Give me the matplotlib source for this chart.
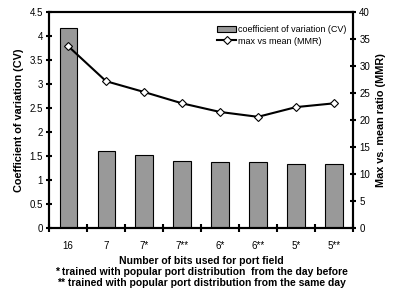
import matplotlib
matplotlib.use("Agg")
import matplotlib.pyplot as plt
import numpy as np

plt.rcParams['font.family'] = ['Liberation Sans', 'DejaVu Sans']

labels = ['16', '7', '7*', '7**', '6*', '6**', '5*', '5**']
cv = [4.17, 1.60, 1.52, 1.40, 1.38, 1.38, 1.33, 1.33]
mmr = [33.7, 27.2, 25.2, 23.1, 21.5, 20.6, 22.4, 23.1]

fig = plt.figure(figsize=(4.09, 2.95), dpi=100)
ax = fig.add_axes([0.12, 0.227, 0.743, 0.732])
x = np.arange(len(labels))

b = ax.bar(x, cv, width=0.45, color='#999999', edgecolor='black', linewidth=0.8,
           label='coefficient of variation (CV)')
ax.set_xlim(-0.5, len(labels) - 0.5)
ax.set_ylim(0, 4.5)
ax.set_yticks(np.arange(0, 4.51, 0.5))
ax.set_yticklabels(['0', '0.5', '1', '1.5', '2', '2.5', '3', '3.5', '4', '4.5'])
ax.set_xticks(x)
ax.set_xticklabels(labels)
ax.set_xticks(np.arange(-0.5, len(labels)), minor=True)
ax.tick_params(axis='x', which='major', length=0, pad=9, labelsize=7)
ax.tick_params(axis='x', which='minor', direction='inout', length=6, width=1.5)
ax.tick_params(axis='y', direction='inout', length=5, width=1.5, labelsize=7, pad=2)
for s in ax.spines.values():
    s.set_linewidth(1.5)
ax.set_ylabel('Coefficient of variation (CV)', fontsize=7.8, fontweight='bold')
ax.set_xlabel('Number of bits used for port field\n'
              '* trained with popular port distribution  from the day before\n'
              '** trained with popular port distribution from the same day',
              fontsize=7.5, fontweight='bold', labelpad=4, linespacing=1.15)

ax2 = ax.twinx()
l, = ax2.plot(x, mmr, color='black', linewidth=1.5, marker='D', markersize=4.5,
              markerfacecolor='white', markeredgecolor='black', markeredgewidth=0.8,
              label='max vs mean (MMR)')
ax2.set_ylim(0, 40)
ax2.set_yticks(np.arange(0, 41, 5))
ax2.tick_params(axis='y', direction='inout', length=5, width=1.5, labelsize=7, pad=2)
ax2.set_ylabel('Max vs. mean ratio (MMR)', fontsize=7.8, fontweight='bold')
for s in ax2.spines.values():
    s.set_linewidth(1.5)

ax2.legend([b, l], ['coefficient of variation (CV)', 'max vs mean (MMR)'],
           loc='upper right', bbox_to_anchor=(1.0, 0.97), frameon=False,
           fontsize=6.5, handlelength=2.2, handletextpad=0.2, borderaxespad=0.3,
           labelspacing=0.3)

fig.savefig('out.png', dpi=100)
